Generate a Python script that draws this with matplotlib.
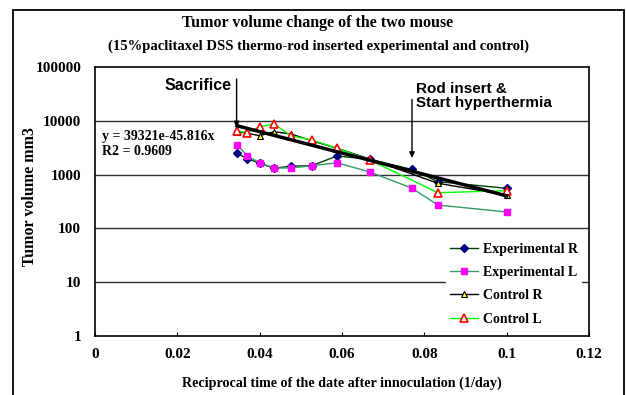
import matplotlib
matplotlib.use("Agg")
import matplotlib.pyplot as plt
from matplotlib.patches import Rectangle
import numpy as np

# reciprocal time (1/day)
x_exp = [0.0345, 0.0370, 0.0400, 0.0435, 0.0476, 0.0526, 0.0588, 0.0667, 0.0769, 0.0833, 0.1000]
exp_r = [2490, 1980, 1620, 1310, 1440, 1460, 2220, 1930, 1250, 740, 556]
exp_l = [3600, 2220, 1650, 1330, 1330, 1460, 1660, 1120, 564, 272, 202]

x_ctl = [0.0345, 0.0370, 0.0400, 0.0435, 0.0476, 0.0526, 0.0588, 0.0667, 0.0833, 0.1000]
ctl_r = [6270, 5860, 5290, 6270, 5690, 4270, 3090, 1950, 690, 418]
ctl_l = [6460, 6010, 7770, 8720, 5290, 4400, 3090, 1870, 461, 502]

# exponential trendline as printed on the chart
trend_a = 39321
trend_k = 45.816
trend_x = [0.0345, 0.1000]

x_ticks = [0, 0.02, 0.04, 0.06, 0.08, 0.1, 0.12]
x_tick_labels = ["0", "0.02", "0.04", "0.06", "0.08", "0.1", "0.12"]
y_ticks = [1, 10, 100, 1000, 10000, 100000]
y_tick_labels = ["1", "10", "100", "1000", "10000", "100000"]

serif = "Liberation Serif"
sans = "Liberation Sans"

fig = plt.figure(figsize=(6.26, 3.95), dpi=100)
ax = fig.add_axes([95 / 626, 59 / 395, 494 / 626, 269 / 395])

# outer chart border
fig.patches.append(Rectangle((13 / 626, -0.05), 611 / 626, (385 / 395) + 0.05,
                             transform=fig.transFigure, fill=False,
                             edgecolor="black", lw=1.3))

ax.set_yscale("log")
ax.set_xlim(0, 0.12)
ax.set_ylim(1, 100000)

for yv in [10, 100, 1000, 10000]:
    ax.axhline(yv, color="#303030", lw=1.0, zorder=1)

ax.plot(x_exp, exp_r, color="#004000", lw=1.0, marker="D", ms=3.8,
        mfc="#000080", mec="#000080", label="Experimental R", zorder=3)
ax.plot(x_exp, exp_l, color="#339966", lw=1.0, marker="s", ms=4.8,
        mfc="#ff00ff", mec="#ff00ff", label="Experimental L", zorder=3)
ax.plot(x_ctl, ctl_r, color="black", lw=1.0, marker="^", ms=5,
        mfc="#ffff00", mec="black", mew=0.8, label="Control R", zorder=4)
ax.plot(x_ctl, ctl_l, color="#00ff00", lw=1.0, marker="^", ms=5.8,
        mfc="white", mec="#ff0000", mew=1.2, label="Control L", zorder=4)

tx = np.array(trend_x)
ax.plot(tx, trend_a * np.exp(-trend_k * tx), color="black", lw=2.5, zorder=5)

ax.set_xticks(x_ticks)
ax.set_xticklabels(x_tick_labels, fontfamily=serif, fontweight="bold", fontsize=11)
ax.set_yticks(y_ticks)
ax.set_yticklabels(y_tick_labels, fontfamily=serif, fontweight="bold", fontsize=11)
ax.yaxis.set_minor_locator(matplotlib.ticker.NullLocator())
ax.tick_params(axis="x", direction="in", length=3, pad=9)
ax.tick_params(axis="y", length=0, pad=10)
for sp in ax.spines.values():
    sp.set_linewidth(1.2)

ax.set_xlabel("Reciprocal time of the date after innoculation (1/day)",
              fontfamily=serif, fontweight="bold", fontsize=10.2, labelpad=11)
ax.set_ylabel("Tumor volume mm3", fontfamily=serif, fontweight="bold",
              fontsize=11.5)
ax.yaxis.set_label_coords(-0.116, 0.52)

fig.text(318 / 626, 1 - 23 / 395, "Tumor volume change of the two mouse",
         ha="center", va="center", fontfamily=serif, fontweight="bold", fontsize=11.5)
fig.text(319 / 626, 1 - 46 / 395,
         "(15%paclitaxel DSS thermo-rod inserted experimental and control)",
         ha="center", va="center", fontfamily=serif, fontweight="bold", fontsize=10.5)

# equation and annotations
ax.text(0.0018, 3700, "y = 39321e-45.816x\nR2 = 0.9609", fontfamily=serif,
        fontweight="bold", fontsize=10, va="center", ha="left", linespacing=1.25)

ax.annotate("", xy=(0.0344, 7600), xytext=(0.0344, 60000),
            arrowprops=dict(arrowstyle="-|>", color="black", lw=1.0,
                            mutation_scale=8, shrinkA=0, shrinkB=0))
ax.text(0.0344 - 0.0012, 45000, "Sacrifice", fontfamily=sans, fontweight="bold",
        fontsize=11.5, ha="right", va="center")

ax.annotate("", xy=(0.0770, 2050), xytext=(0.0770, 25000),
            arrowprops=dict(arrowstyle="-|>", color="black", lw=1.0,
                            mutation_scale=8, shrinkA=0, shrinkB=0))
ax.text(0.0780, 29000, "Rod insert &\nStart hyperthermia", fontfamily=sans,
        fontweight="bold", fontsize=11, ha="left", va="center", linespacing=1.0)

leg = ax.legend(loc="upper left", bbox_to_anchor=(0.71, 0.363), frameon=True,
                prop=dict(family=serif, weight="bold", size=10),
                labelspacing=0.75, handlelength=2.0, handletextpad=0.4,
                borderpad=0.3, borderaxespad=0, fancybox=False)
leg.get_frame().set_edgecolor("none")
leg.get_frame().set_facecolor("white")
leg.get_frame().set_alpha(1.0)
leg.set_zorder(10)

fig.savefig("out.png", dpi=100)
